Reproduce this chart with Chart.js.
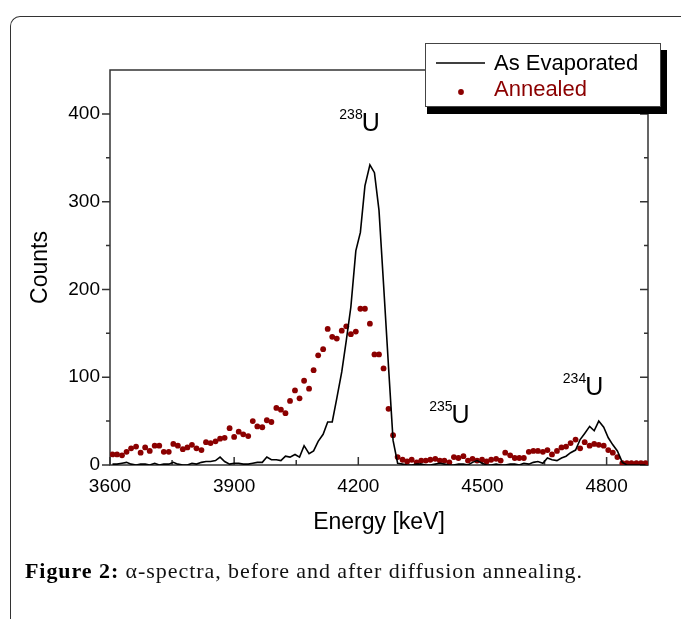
<!DOCTYPE html>
<html><head><meta charset="utf-8">
<script src="https://cdn.jsdelivr.net/npm/chart.js@4.4.1/dist/chart.umd.min.js"></script>
<style>
html,body{margin:0;padding:0;background:#fff;width:681px;height:619px;overflow:hidden;}
#frame{position:absolute;left:10px;top:16px;width:700px;height:640px;border-top:1.5px solid #333;border-left:1.5px solid #333;border-top-left-radius:10px;box-sizing:border-box;}
#wrap{position:absolute;left:0;top:0;width:681px;height:619px;}
#caption{position:absolute;left:25px;top:560px;font-family:"Liberation Serif","Times New Roman",serif;font-size:22px;line-height:22px;white-space:nowrap;color:#111;}
#caption b{color:#000;}
</style></head>
<body>
<div id="frame"></div>
<div id="wrap"><canvas id="c" width="681" height="619"></canvas></div>
<div id="caption"><b>Figure 2:</b> α-spectra, before and after diffusion annealing.</div>
<script>
const energies = [3606,3617,3629,3640,3651,3663,3674,3685,3696,3708,3719,3730,3742,3753,3764,3776,3787,3798,3809,3821,3832,3843,3855,3866,3877,3889,3900,3911,3922,3934,3945,3956,3968,3979,3990,4002,4013,4024,4035,4047,4058,4069,4081,4092,4103,4115,4126,4137,4148,4160,4171,4182,4194,4205,4216,4228,4239,4250,4261,4273,4284,4295,4307,4318,4329,4341,4352,4363,4374,4386,4397,4408,4420,4431,4442,4454,4465,4476,4487,4499,4510,4521,4533,4544,4555,4567,4578,4589,4600,4612,4623,4634,4646,4657,4668,4680,4691,4702,4713,4725,4736,4747,4759,4770,4781,4793,4804,4815,4826,4838,4849,4860,4872,4883,4894];
const asEvaporated = [1,1,2,3,1,0,1,1,0,2,0,1,1,3,1,0,0,2,1,3,4,4,5,9,4,1,2,2,1,1,2,3,3,9,6,6,5,10,9,12,9,22,13,16,27,35,49,49,76,106,142,180,244,265,318,342,333,290,206,112,28,2,1,0,0,1,1,0,0,1,2,1,0,0,1,1,0,3,5,2,0,0,1,0,0,1,1,0,2,1,3,4,2,8,6,5,8,10,14,17,29,36,44,39,50,43,31,23,16,3,0,0,0,0,0];
const annealed = [12,12,11,15,19,21,14,20,16,22,22,15,15,24,22,18,20,23,19,17,26,25,27,30,31,42,32,38,35,33,50,44,43,51,49,65,63,59,73,85,76,96,87,108,125,132,155,146,144,153,158,149,152,178,178,161,126,126,110,64,34,9,6,4,6,3,5,5,6,7,5,5,3,9,8,10,5,7,5,6,4,6,7,5,14,11,8,8,8,15,16,16,15,17,12,16,20,21,25,29,19,26,22,24,23,22,17,14,9,2,2,2,2,2,2];
const xTicks = [3600,3900,4200,4500,4800];
const xMinorTicks = [3750,4050,4350,4650];
const yTicks = [0,100,200,300,400];
const yMinorTicks = [50,150,250,350];
const seriesNames = ["As Evaporated","Annealed"];
const peakLabels = [
  {iso:"238", el:"U", e:4213, c:381, sc:394},
  {iso:"235", el:"U", e:4430, c:48, sc:62},
  {iso:"234", el:"U", e:4753, c:80, sc:93}
];
const RED = "#8b0000";
const SANS = '"Liberation Sans", Arial, Helvetica, sans-serif';

const framePlugin = {
  id: 'framePlugin',
  beforeDatasetsDraw(chart) {
    const {ctx, chartArea: a, scales: {x, y}} = chart;
    ctx.save();
    ctx.strokeStyle = '#333';
    ctx.lineWidth = 1.5;
    ctx.beginPath();
    ctx.rect(a.left, a.top, a.right - a.left, a.bottom - a.top);
    ctx.stroke();
    ctx.beginPath();
    yTicks.forEach(v => { const p = y.getPixelForValue(v);
      ctx.moveTo(a.left - 8, p); ctx.lineTo(a.left, p);
      ctx.moveTo(a.right - 8, p); ctx.lineTo(a.right, p); });
    yMinorTicks.forEach(v => { const p = y.getPixelForValue(v);
      ctx.moveTo(a.left - 4, p); ctx.lineTo(a.left, p);
      ctx.moveTo(a.right - 4, p); ctx.lineTo(a.right, p); });
    xTicks.forEach(v => { const p = x.getPixelForValue(v);
      ctx.moveTo(p, a.bottom); ctx.lineTo(p, a.bottom - 8); });
    xMinorTicks.forEach(v => { const p = x.getPixelForValue(v);
      ctx.moveTo(p, a.bottom); ctx.lineTo(p, a.bottom - 5); });
    ctx.stroke();
    ctx.restore();
  },
  afterDraw(chart) {
    const {ctx, scales: {x, y}} = chart;
    ctx.save();
    ctx.fillStyle = '#000';
    ctx.textBaseline = 'alphabetic';
    peakLabels.forEach(l => {
      const px = x.getPixelForValue(l.e);
      ctx.font = '14px ' + SANS;
      ctx.textAlign = 'right';
      ctx.fillText(l.iso, px - 1, y.getPixelForValue(l.sc));
      ctx.font = '25px ' + SANS;
      ctx.textAlign = 'left';
      ctx.fillText(l.el, px - 2, y.getPixelForValue(l.c));
    });
    // legend
    ctx.fillStyle = '#000';
    ctx.fillRect(427, 50, 240, 64);
    ctx.fillStyle = '#fff';
    ctx.fillRect(425, 43, 236, 64);
    ctx.strokeStyle = '#444';
    ctx.lineWidth = 1;
    ctx.strokeRect(425.5, 43.5, 235, 63);
    ctx.strokeStyle = '#000';
    ctx.lineWidth = 1.6;
    ctx.beginPath(); ctx.moveTo(436, 63); ctx.lineTo(485, 63); ctx.stroke();
    ctx.fillStyle = RED;
    ctx.beginPath(); ctx.arc(461, 92, 2.9, 0, Math.PI * 2); ctx.fill();
    ctx.font = '22px ' + SANS;
    ctx.textAlign = 'left';
    ctx.fillStyle = '#000';
    ctx.fillText(seriesNames[0], 494, 70);
    ctx.fillStyle = RED;
    ctx.fillText(seriesNames[1], 494, 96);
    ctx.restore();
  }
};

new Chart(document.getElementById('c'), {
  type: 'scatter',
  data: {
    datasets: [
      { label: seriesNames[0], data: energies.map((e, i) => ({x: e, y: asEvaporated[i]})),
        showLine: true, borderColor: '#000', borderWidth: 1.6, pointRadius: 0, tension: 0, fill: false },
      { label: seriesNames[1], data: energies.map((e, i) => ({x: e, y: annealed[i]})),
        showLine: false, pointRadius: 2.9, pointBackgroundColor: RED, pointBorderWidth: 0, borderColor: RED }
    ]
  },
  options: {
    responsive: false, animation: false, devicePixelRatio: 1,
    layout: { padding: { left: 27, right: 33, top: 70, bottom: 83 } },
    plugins: { legend: { display: false }, tooltip: { enabled: false } },
    scales: {
      x: {
        type: 'linear', min: 3600, max: 4900,
        afterBuildTicks: s => { s.ticks = xTicks.map(v => ({value: v})); },
        afterFit: s => { s.height = 71; s.paddingLeft = 0; s.paddingRight = 0; },
        grid: { display: false, drawTicks: false },
        border: { display: false },
        ticks: { padding: 10, color: '#000', font: { family: SANS, size: 19 }, callback: v => String(v), maxRotation: 0, autoSkip: false },
        title: { display: true, text: 'Energy [keV]', color: '#000', font: { family: SANS, size: 23 }, padding: 0 }
      },
      y: {
        type: 'linear', min: 0, max: 450,
        afterBuildTicks: s => { s.ticks = yTicks.map(v => ({value: v})); },
        afterFit: s => { s.width = 83; s.paddingTop = 0; s.paddingBottom = 0; },
        grid: { display: false, drawTicks: false },
        border: { display: false },
        ticks: { padding: 10, color: '#000', font: { family: SANS, size: 19 }, callback: v => String(v), autoSkip: false },
        title: { display: true, text: 'Counts', color: '#000', font: { family: SANS, size: 23 }, padding: 0 }
      }
    }
  },
  plugins: [framePlugin]
});

const cap = document.getElementById('caption');
const w = cap.getBoundingClientRect().width;
const n = cap.textContent.length;
cap.style.letterSpacing = ((558 - w) / n).toFixed(3) + 'px';
</script>
</body></html>
